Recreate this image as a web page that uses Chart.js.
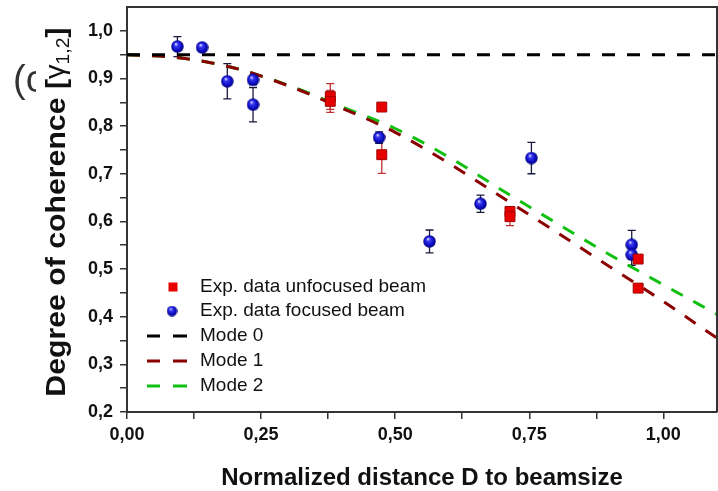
<!DOCTYPE html>
<html>
<head>
<meta charset="utf-8">
<script src="https://cdn.jsdelivr.net/npm/chart.js@4.4.1/dist/chart.umd.min.js"></script>
<style>
html, body { margin: 0; padding: 0; background: #fff; overflow: hidden; }
canvas { display: block; }
</style>
</head>
<body>
<canvas id="coherence" width="718" height="491"></canvas>
<script>
// focused beam (blue spheres)
var focusedX = [0.094, 0.140, 0.187, 0.235, 0.235, 0.470, 0.564, 0.659, 0.754, 0.941, 0.941];
var focusedY = [0.967, 0.965, 0.894, 0.897, 0.845, 0.776, 0.558, 0.637, 0.733, 0.551, 0.530];
var focusedErr = [0.021, 0, 0.037, 0.010, 0.036, 0.012, 0.024, 0.018, 0.033, 0.030, 0.022];

// unfocused beam (red squares)
var unfocusedX = [0.379, 0.379, 0.475, 0.475, 0.714, 0.714, 0.953, 0.953];
var unfocusedY = [0.862, 0.852, 0.840, 0.740, 0.621, 0.610, 0.521, 0.460];
var unfocusedErr = [0.027, 0.023, 0, 0.039, 0, 0.019, 0, 0];

// model curves
var modeX = [0, 0.1, 0.2, 0.3, 0.4, 0.5, 0.6, 0.7, 0.8, 0.9, 1.0, 1.1];
var mode0Y = [0.95, 0.95, 0.95, 0.95, 0.95, 0.95, 0.95, 0.95, 0.95, 0.95, 0.95, 0.95];
var mode1Y = [0.950, 0.943, 0.922, 0.885, 0.838, 0.787, 0.722, 0.650, 0.578, 0.505, 0.432, 0.355];
var mode2Y = [0.950, 0.943, 0.922, 0.886, 0.841, 0.795, 0.735, 0.665, 0.597, 0.530, 0.467, 0.405];

var xTicks = [0, 0.125, 0.25, 0.375, 0.5, 0.625, 0.75, 0.875, 1.0];
var yTicks = [0.2, 0.25, 0.3, 0.35, 0.4, 0.45, 0.5, 0.55, 0.6, 0.65, 0.7, 0.75, 0.8, 0.85, 0.9, 0.95, 1.0];

var FONT = "'Liberation Sans', Arial, sans-serif";

function pts(xs, ys) {
    return xs.map(function (x, i) { return { x: x, y: ys[i] }; });
}

function makeSphere(d) {
    var c = document.createElement('canvas');
    c.width = d; c.height = d;
    var g = c.getContext('2d');
    var r = d / 2;
    var grad = g.createRadialGradient(r * 0.75, r * 0.6, r * 0.05, r, r, r);
    grad.addColorStop(0, '#e0e0ff');
    grad.addColorStop(0.25, '#3a3af5');
    grad.addColorStop(0.7, '#0b0bc0');
    grad.addColorStop(1, '#000070');
    g.fillStyle = grad;
    g.beginPath();
    g.arc(r, r, r - 0.3, 0, Math.PI * 2);
    g.fill();
    return c;
}
var sphere = makeSphere(13);
var sphereSmall = makeSphere(11);

function comma(v, digits) {
    return v.toFixed(digits).replace('.', ',');
}

var errorBars = {
    id: 'errorBars',
    beforeDatasetsDraw: function (chart) {
        var ctx = chart.ctx, xs = chart.scales.x, ys = chart.scales.y;
        chart.data.datasets.forEach(function (ds) {
            if (!ds.errors) return;
            ctx.save();
            ctx.strokeStyle = ds.errorColor;
            ctx.lineWidth = 1.3;
            ds.data.forEach(function (p, i) {
                var e = ds.errors[i];
                if (!e) return;
                var px = xs.getPixelForValue(p.x);
                var top = ys.getPixelForValue(p.y + e);
                var bot = ys.getPixelForValue(p.y - e);
                ctx.beginPath();
                ctx.moveTo(px, top); ctx.lineTo(px, bot);
                ctx.moveTo(px - 4, top); ctx.lineTo(px + 4, top);
                ctx.moveTo(px - 4, bot); ctx.lineTo(px + 4, bot);
                ctx.stroke();
            });
            ctx.restore();
        });
    }
};

var decorations = {
    id: 'decorations',
    afterDraw: function (chart) {
        var ctx = chart.ctx, a = chart.chartArea;
        ctx.save();

        // top and right frame
        ctx.strokeStyle = '#333';
        ctx.lineWidth = 2;
        ctx.beginPath();
        ctx.moveTo(a.left, a.top);
        ctx.lineTo(a.right, a.top);
        ctx.lineTo(a.right, a.bottom);
        ctx.stroke();

        // y axis title with subscript
        ctx.save();
        ctx.translate(57, 212);
        ctx.rotate(-Math.PI / 2);
        ctx.scale(1.08, 1);
        ctx.fillStyle = '#111';
        ctx.textBaseline = 'middle';
        var parts = [
            { t: 'Degree of coherence [', f: 'bold 28px ' + FONT, dy: 0 },
            { t: '\u03b3', f: '27px ' + FONT, dy: 0 },
            { t: '1,2', f: '18px ' + FONT, dy: 7 },
            { t: ']', f: 'bold 28px ' + FONT, dy: 0 }
        ];
        var total = 0;
        parts.forEach(function (p) { ctx.font = p.f; p.w = ctx.measureText(p.t).width; total += p.w; });
        var x = -total / 2;
        parts.forEach(function (p) {
            ctx.font = p.f;
            ctx.fillText(p.t, x, p.dy);
            x += p.w;
        });
        ctx.restore();

        // clipped panel letter
        ctx.save();
        ctx.beginPath();
        ctx.rect(0, 50, 36, 60);
        ctx.clip();
        ctx.fillStyle = '#333';
        ctx.font = '38px ' + FONT;
        ctx.textBaseline = 'middle';
        ctx.fillText('(c', 13, 82);
        ctx.restore();

        // legend
        var rows = [287, 311, 336, 361, 386];
        var ds = chart.data.datasets;
        ctx.font = '19px ' + FONT;
        ctx.textBaseline = 'middle';
        ctx.fillStyle = '#111';
        for (var i = 0; i < ds.length; i++) {
            var y = rows[i];
            ctx.fillText(ds[i].label, 200, y);
            if (ds[i].legendKind === 'square') {
                ctx.fillStyle = ds[i].backgroundColor;
                ctx.fillRect(168.5, y - 4.5, 9, 9);
                ctx.fillStyle = '#111';
            } else if (ds[i].legendKind === 'sphere') {
                ctx.drawImage(sphereSmall, 172 - 5.5, y - 5.5);
            } else {
                ctx.save();
                ctx.strokeStyle = ds[i].borderColor;
                ctx.lineWidth = 3;
                ctx.beginPath();
                ctx.moveTo(147, y); ctx.lineTo(160, y);
                ctx.moveTo(173, y); ctx.lineTo(187, y);
                ctx.stroke();
                ctx.restore();
            }
        }
        ctx.restore();
    }
};

var ctx = document.getElementById('coherence').getContext('2d');
var myChart = new Chart(ctx, {
    type: 'scatter',
    data: {
        datasets: [
            {
                label: 'Exp. data unfocused beam',
                data: pts(unfocusedX, unfocusedY),
                errors: unfocusedErr,
                errorColor: '#c03030',
                legendKind: 'square',
                pointStyle: 'rect',
                pointRadius: 7,
                backgroundColor: '#e80000',
                borderColor: '#a00000',
                borderWidth: 1,
                order: 0
            },
            {
                label: 'Exp. data focused beam',
                data: pts(focusedX, focusedY),
                errors: focusedErr,
                errorColor: '#1a1a40',
                legendKind: 'sphere',
                pointStyle: sphere,
                pointRadius: 6,
                backgroundColor: '#1010c0',
                order: 0
            },
            {
                label: 'Mode 0',
                type: 'line',
                data: pts(modeX, mode0Y),
                borderColor: '#000000',
                borderWidth: 3,
                borderDash: [13, 12],
                pointRadius: 0,
                order: 1
            },
            {
                label: 'Mode 1',
                type: 'line',
                data: pts(modeX, mode1Y),
                borderColor: '#8b0000',
                borderWidth: 3,
                borderDash: [13, 12],
                cubicInterpolationMode: 'monotone',
                pointRadius: 0,
                order: 1
            },
            {
                label: 'Mode 2',
                type: 'line',
                data: pts(modeX, mode2Y),
                borderColor: '#10c010',
                borderWidth: 3,
                borderDash: [13, 12],
                cubicInterpolationMode: 'monotone',
                pointRadius: 0,
                order: 2
            }
        ]
    },
    options: {
        responsive: false,
        animation: false,
        layout: { autoPadding: false, padding: { top: 7, right: 1, left: 0, bottom: 0 } },
        plugins: {
            legend: { display: false },
            tooltip: { enabled: false }
        },
        scales: {
            x: {
                type: 'linear',
                min: 0,
                max: 1.1,
                afterBuildTicks: function (s) {
                    s.ticks = xTicks.map(function (v) { return { value: v }; });
                },
                afterFit: function (s) {
                    s.height = 79;
                    s.paddingLeft = 0;
                    s.paddingRight = 0;
                },
                grid: { drawOnChartArea: false, tickLength: 7, color: '#333', lineWidth: 1.5 },
                border: { color: '#333', width: 2 },
                ticks: {
                    autoSkip: false,
                    maxRotation: 0,
                    padding: 5,
                    color: '#111',
                    font: { family: FONT, size: 18, weight: 'bold' },
                    callback: function (v) {
                        return Math.abs(v * 4 - Math.round(v * 4)) < 1e-6 ? comma(v, 2) : '';
                    }
                },
                title: {
                    display: true,
                    text: 'Normalized distance D to beamsize',
                    color: '#111',
                    padding: { top: 0, bottom: -2 },
                    font: { family: FONT, size: 24, weight: 'bold' }
                }
            },
            y: {
                type: 'linear',
                min: 0.2,
                max: 1.05,
                afterBuildTicks: function (s) {
                    s.ticks = yTicks.map(function (v) { return { value: v }; });
                },
                afterFit: function (s) {
                    s.width = 127;
                    s.paddingTop = 0;
                    s.paddingBottom = 0;
                },
                grid: { drawOnChartArea: false, tickLength: 7, color: '#333', lineWidth: 1.5 },
                border: { color: '#333', width: 2 },
                ticks: {
                    autoSkip: false,
                    padding: 7,
                    color: '#111',
                    font: { family: FONT, size: 18, weight: 'bold' },
                    callback: function (v) {
                        return Math.abs(v * 10 - Math.round(v * 10)) < 1e-6 ? comma(v, 1) : '';
                    }
                }
            }
        }
    },
    plugins: [errorBars, decorations]
});
</script>
</body>
</html>
